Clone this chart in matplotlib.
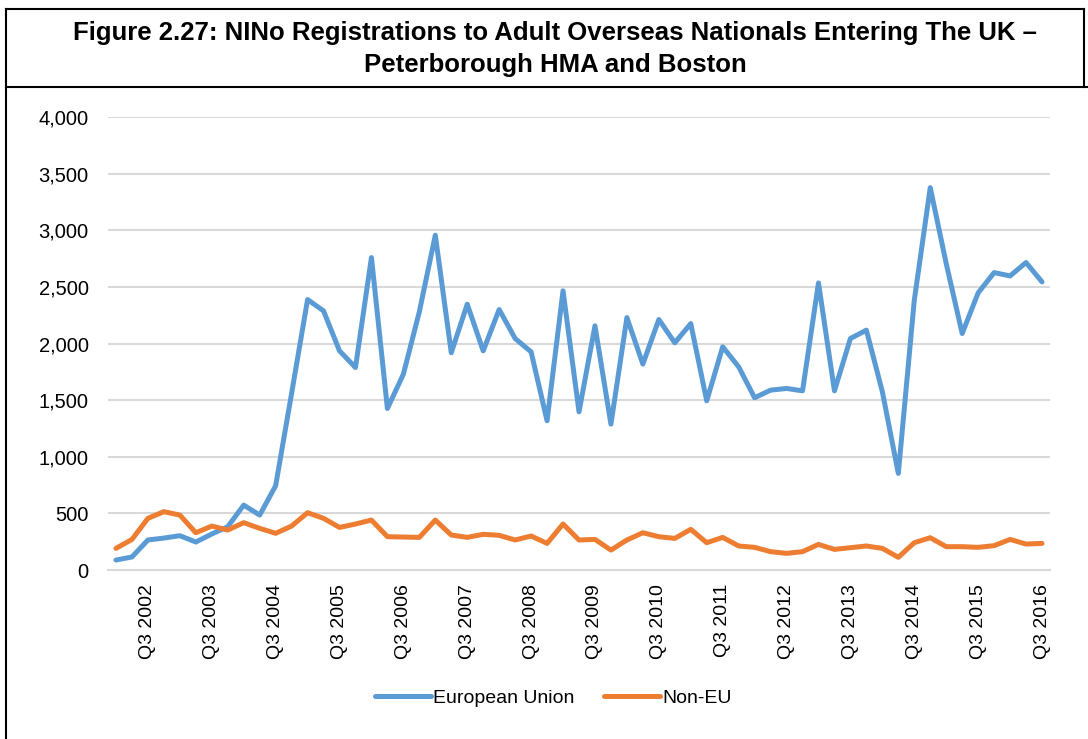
import matplotlib
matplotlib.use("Agg")
import matplotlib.pyplot as plt
from matplotlib.lines import Line2D

# quarterly NINo registrations, Q1 2002 .. Q3 2016
quarters = [f"Q{q} {y}" for y in range(2002, 2017) for q in (1, 2, 3, 4)][:59]

eu = [88, 115, 265, 282, 303, 247, 318, 382, 573, 485,
      744, 1560, 2388, 2288, 1935, 1788, 2759, 1426, 1729, 2280,
      2956, 1918, 2347, 1935, 2300, 2044, 1926, 1318, 2465, 1397,
      2156, 1288, 2229, 1818, 2212, 2006, 2176, 1494, 1971, 1794,
      1521, 1588, 1603, 1582, 2535, 1582, 2044, 2118, 1574, 853,
      2382, 3376, 2706, 2088, 2447, 2626, 2597, 2715, 2544]

non_eu = [191, 270, 456, 515, 485, 329, 388, 353, 418, 368,
          324, 388, 506, 456, 376, 406, 441, 294, 291, 288,
          441, 309, 288, 315, 306, 265, 300, 235, 406, 265,
          270, 176, 265, 329, 294, 279, 359, 241, 288, 212,
          200, 162, 147, 162, 226, 182, 197, 212, 191, 112,
          241, 285, 206, 206, 200, 215, 270, 229, 235]

title_lines = ["Figure 2.27: NINo Registrations to Adult Overseas Nationals Entering The UK \u2013",
               "Peterborough HMA and Boston"]

EU_COLOR = "#5B9BD5"
NONEU_COLOR = "#ED7D31"
FONT = ["Liberation Sans", "DejaVu Sans"]

fig = plt.figure(figsize=(10.88, 7.39), dpi=100)
W, H = 1088, 739

def fx(px):
    return px / W

def fy(py):
    return 1 - py / H

ax = fig.add_axes([fx(108), fy(570), fx(1050) - fx(108), fy(117) - fy(570)])

x = list(range(len(quarters)))
ax.plot(x, eu, color=EU_COLOR, lw=3.6, label="European Union",
        solid_joinstyle="round", solid_capstyle="round")
ax.plot(x, non_eu, color=NONEU_COLOR, lw=3.6, label="Non-EU",
        solid_joinstyle="round", solid_capstyle="round")

ax.set_xlim(-0.5, len(quarters) - 0.5)
ax.set_ylim(0, 4000)
ax.set_yticks(range(0, 4001, 500))
ax.set_yticklabels([f"{v:,}" for v in range(0, 4001, 500)], family=FONT, fontsize=14.5)

tick_idx = [i for i, q in enumerate(quarters) if q.startswith("Q3")]
ax.set_xticks(tick_idx)
ax.set_xticklabels([quarters[i] for i in tick_idx], rotation=90, family=FONT, fontsize=14)

ax.tick_params(axis="y", length=0, pad=14)
ax.tick_params(axis="x", length=0, pad=10)
ax.grid(axis="y", color="#D9D9D9", lw=1.5)
ax.set_axisbelow(True)
for side in ("top", "right", "left"):
    ax.spines[side].set_visible(False)
ax.spines["bottom"].set_color("#D9D9D9")
ax.spines["bottom"].set_linewidth(1.5)

fig.legend(loc="center", bbox_to_anchor=(fx(553), fy(698)), ncol=2, frameon=False,
           prop={"family": FONT, "size": 14}, handlelength=2.9, handletextpad=0.1,
           columnspacing=1.5, borderpad=0)

# header box and frame
fig.text(fx(555), fy(33), title_lines[0], ha="center", va="center",
         fontsize=18.5, fontweight="bold", family=FONT)
fig.text(fx(555), fy(65), title_lines[1], ha="center", va="center",
         fontsize=18.5, fontweight="bold", family=FONT)

frame = dict(color="black", lw=1.5, transform=fig.transFigure)
fig.add_artist(Line2D([fx(6), fx(1084)], [fy(9), fy(9)], **frame))
fig.add_artist(Line2D([fx(6), fx(6)], [fy(9), fy(739)], **frame))
fig.add_artist(Line2D([fx(1084), fx(1084)], [fy(9), fy(87)], **frame))
fig.add_artist(Line2D([fx(6), fx(1088)], [fy(87), fy(87)], **frame))

fig.savefig("out.png", dpi=100)
